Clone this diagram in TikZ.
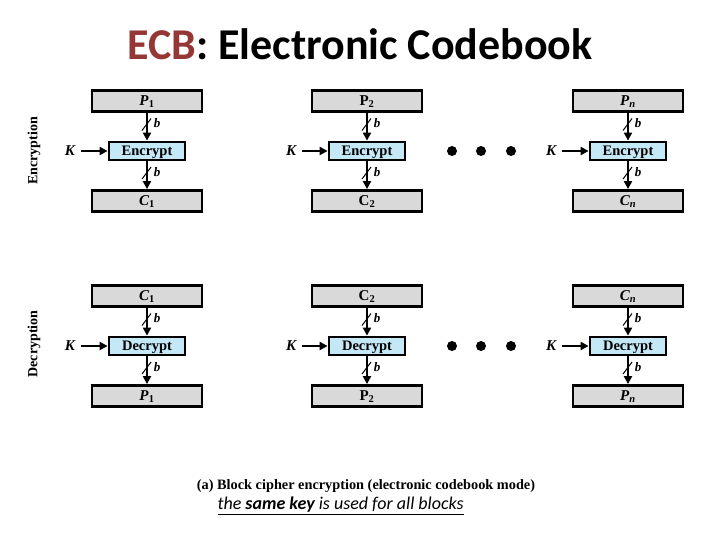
\documentclass[tikz,border=0pt]{standalone}
\usepackage{fontspec}
\setmainfont{Liberation Serif}
\newfontfamily\calfont{Carlito}
\usetikzlibrary{arrows.meta,calc}
\definecolor{boxgray}{HTML}{D9D9D9}
\definecolor{boxblue}{HTML}{C5E8F7}
\definecolor{ecbred}{HTML}{953735}
\newcommand\bsub[2]{\textbf{\textit{#1}}\textsubscript{\textbf{#2}}}
\tikzset{
  blk/.style={draw, line width=2.8pt, fill=boxgray, minimum width=110pt, minimum height=21pt, inner sep=0pt, text height=10pt, text depth=1pt, font=\fontsize{15}{15}\selectfont\bfseries},
  fn/.style={draw, line width=2.8pt, fill=boxblue, minimum width=76pt, minimum height=18pt, inner sep=0pt, text height=10pt, text depth=1pt, font=\fontsize{14.5}{14.5}\selectfont\bfseries},
  keylbl/.style={font=\fontsize{15}{15}\selectfont\bfseries\itshape, inner sep=0pt},
  arr/.style={line width=2pt, -{Triangle[length=8pt,width=8pt]}},
  slashln/.style={line width=1pt},
  blbl/.style={font=\fontsize{13}{13}\selectfont\bfseries\itshape, inner sep=0pt},
  dot/.style={circle, fill=black, minimum size=10pt, inner sep=0pt},
  side/.style={font=\fontsize{14}{14}\selectfont\bfseries, rotate=90, inner sep=0pt}
}
\newcommand\ecbcol[7]{%
  \node[blk] (t#6) at (#1,#2) {#3};
  \node[fn] (f#6) at (#1,#2+50) {#4};
  \node[blk] (b#6) at (#1,#2+100) {#5};
  \node[keylbl] (k#6) at (#7,#2+50) {K};
  \draw[arr] ($(k#6.east)+(6,0)$) -- (f#6.west);
  \draw[arr] (t#6.south) -- (f#6.north) coordinate[pos=0.42] (ma#6);
  \draw[arr] (f#6.south) -- (b#6.north) coordinate[pos=0.42] (mb#6);
  \draw[slashln] ($(ma#6)+(-5,6)$) -- ($(ma#6)+(4,-6)$);
  \draw[slashln] ($(mb#6)+(-5,6)$) -- ($(mb#6)+(4,-6)$);
  \node[blbl] (la#6) at ($(ma#6)+(10,-1)$) {b};
  \node[blbl] (lb#6) at ($(mb#6)+(10,-1)$) {b};
}
\begin{document}
\begin{tikzpicture}[x=1pt,y=-1pt]
\useasboundingbox (0,0) rectangle (720,540);
\fill[white] (0,0) rectangle (720,540);
\node[font=\calfont\bfseries\fontsize{44}{44}\selectfont, anchor=base] (title) at (360,60) {\textcolor{ecbred}{ECB}: Electronic Codebook};
% Encryption row
\node[side] (enclbl) at (34,151) {Encryption};
\ecbcol{147}{101}{\bsub{P}{1}}{Encrypt}{\bsub{C}{1}}{e1}{70}
\ecbcol{367}{101}{\textbf{P}\textsubscript{\textbf{2}}}{Encrypt}{\textbf{C}\textsubscript{\textbf{2}}}{e2}{291}
\ecbcol{628}{101}{\bsub{P}{\textit{n}}}{Encrypt}{\bsub{C}{\textit{n}}}{e3}{551}
\node[dot] (dotA) at (452,151) {};
\node[dot] (dotB) at (481,151) {};
\node[dot] (dotC) at (511,151) {};
% Decryption row
\node[side] (declbl) at (34,344) {Decryption};
\ecbcol{147}{296}{\bsub{C}{1}}{Decrypt}{\bsub{P}{1}}{d1}{70}
\ecbcol{367}{296}{\textbf{C}\textsubscript{\textbf{2}}}{Decrypt}{\textbf{P}\textsubscript{\textbf{2}}}{d2}{291}
\ecbcol{628}{296}{\bsub{C}{\textit{n}}}{Decrypt}{\bsub{P}{\textit{n}}}{d3}{551}
\node[dot] (dotD) at (452,346) {};
\node[dot] (dotE) at (481,346) {};
\node[dot] (dotF) at (511,346) {};
% captions
\node[font=\fontsize{14.3}{14.3}\selectfont\bfseries] (cap) at (366,486) {(a) Block cipher encryption (electronic codebook mode)};
\node[font=\calfont\fontsize{18}{18}\selectfont\itshape, anchor=west] (note) at (214,506) {\underline{the \textbf{same key} is used for all blocks}};
\end{tikzpicture}
\end{document}
